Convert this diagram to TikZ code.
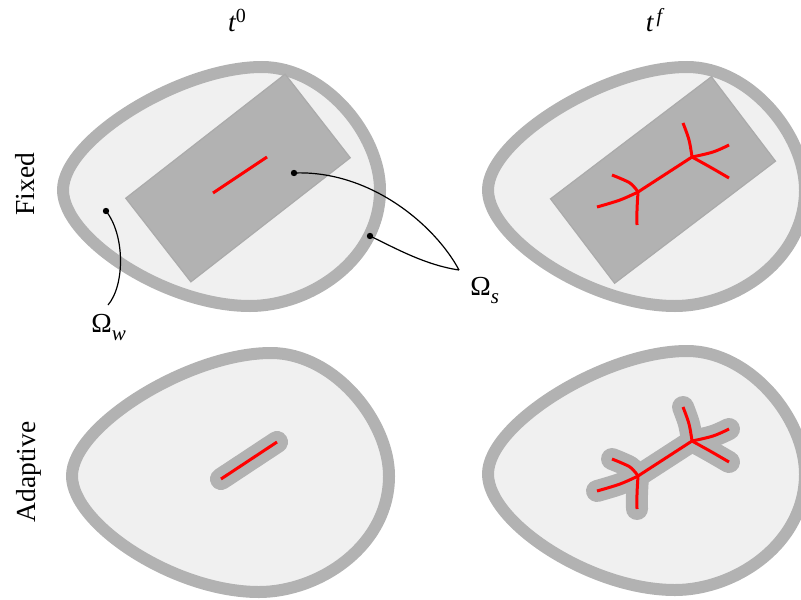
\documentclass[tikz,border=0pt]{standalone}
\usepackage{fontspec}
\setmainfont{Liberation Serif}
\begin{document}
\begin{tikzpicture}[x=0.5pt,y=-0.5pt,
  blobline/.style={draw=black!30, fill=black!6, line width=6pt},
  blockbox/.style={draw=black!33, fill=black!30, line width=0.6pt, minimum width=101pt, minimum height=53pt, inner sep=0pt},
  crackline/.style={draw=red, line width=1.5pt},
  halo/.style={draw=black!30, line width=11pt, line cap=round, line join=round},
  leader/.style={draw=black, line width=0.6pt},
  dot/.style={circle, fill=black, inner sep=0pt, minimum size=3.2pt},
  lbl/.style={font=\fontsize{13.75}{16}\selectfont, inner sep=0pt},
  blob/.pic={\path[blobline] (63,190)
      .. controls (63,140) and (180,67) .. (262,67)
      .. controls (325,67) and (380,135) .. (380,190)
      .. controls (380,260) and (310,306) .. (250,306)
      .. controls (165,306) and (63,238) .. (63,190) -- cycle;},
  crack/.pic={
    \path[pic actions] plot[smooth, tension=0.6] coordinates {(-41,15) (-18,8) (0,0)};
    \path[pic actions] (0,0) -- (54,-35);
    \path[pic actions] plot[smooth, tension=0.5] coordinates {(-26,-17) (-8,-9) (0,0)};
    \path[pic actions] plot[smooth, tension=0.6] coordinates {(0,0) (-1,18) (-1,33)};
    \path[pic actions] plot[smooth, tension=0.6] coordinates {(54,-35) (51,-52) (45,-69)};
    \path[pic actions] plot[smooth, tension=0.6] coordinates {(54,-35) (75,-40) (91,-47)};
    \path[pic actions] plot[smooth, tension=0.6] coordinates {(54,-35) (72,-25) (91,-14)};
  }
]
\useasboundingbox (0,0) rectangle (801,599);

% domains
\pic at (0,0) {blob};
\pic at (425,0) {blob};
\pic at (9,286) {blob};
\pic at (425,284) {blob};

% fixed refinement boxes
\node[blockbox, rotate=37.9] (boxA) at (238,178) {};
\node[blockbox, rotate=37.2] (boxB) at (663,180) {};

% initial cracks
\draw[halo] (221,479) -- (277,442);
\draw[crackline] (213,193) -- (267,157);
\draw[crackline] (221,479) -- (277,442);

% final cracks
\pic[halo] at (638,476) {crack};
\pic[crackline] at (638,192) {crack};
\pic[crackline] at (638,476) {crack};

% labels
\node[lbl, anchor=base] (t0) at (237,32) {\itshape t\raisebox{4.5pt}{\fontsize{10}{10}\selectfont\upshape 0}};
\node[lbl, anchor=base] (tf) at (654,32) {\itshape t\kern1.5pt\raisebox{4.5pt}{\fontsize{10}{10}\selectfont f}};
\node[lbl, anchor=base, rotate=90] (fixed) at (34,184) {Fixed};
\node[lbl, anchor=base, rotate=90] (adapt) at (35,472) {Adaptive};
\node[lbl, anchor=base west] (omw) at (91,332) {Ω\raisebox{-4pt}{\fontsize{10.5}{10}\selectfont\itshape w}};
\node[lbl, anchor=base west] (oms) at (470,295) {Ω\raisebox{-4pt}{\fontsize{10.5}{10}\selectfont\itshape s}};

% leaders
\coordinate (pw) at (106,211);
\coordinate (ps1) at (294,173);
\coordinate (ps2) at (370,236);
\coordinate (ew) at (108,305);
\coordinate (es) at (459,270);
\draw[leader] (pw) .. controls (125,235) and (125,285) .. (ew);
\draw[leader] (ps1) .. controls (370,170) and (435,225) .. (es);
\draw[leader] (ps2) .. controls (395,248) and (425,265) .. (es);
\node[dot] (dotw) at (pw) {};
\node[dot] (dots1) at (ps1) {};
\node[dot] (dots2) at (ps2) {};
\end{tikzpicture}
\end{document}
